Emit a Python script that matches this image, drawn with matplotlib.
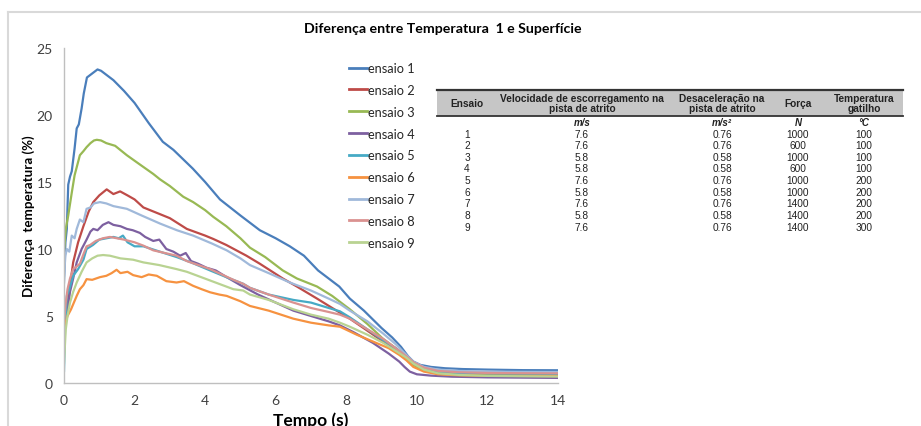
import matplotlib
matplotlib.use("Agg")
import matplotlib.pyplot as plt
from matplotlib.lines import Line2D
from matplotlib.patches import Rectangle

# ---------------- data ----------------
title = "Diferença entre Temperatura  1 e Superfície"
xlabel = "Tempo (s)"
ylabel = "Diferença  temperatura (%)"
series_names = ["ensaio 1", "ensaio 2", "ensaio 3", "ensaio 4", "ensaio 5",
                "ensaio 6", "ensaio 7", "ensaio 8", "ensaio 9"]
series_colors = ["#4A7EBB", "#BE4B48", "#98B954", "#7D60A0", "#46AAC5",
                 "#F69240", "#A0B9DA", "#DA9290", "#B9D392"]

t1 = [0, 0.04, 0.08, 0.12, 0.17, 0.22, 0.3, 0.36, 0.42, 0.5, 0.56, 0.65, 0.75, 0.85, 0.95, 1.05, 1.2,
      1.4, 1.7, 2.0, 2.4, 2.8, 3.1, 3.65, 4.0, 4.42, 5.0, 5.55, 6.0, 6.4, 6.8, 7.2, 7.8, 8.1, 8.5,
      9.0, 9.3, 9.55, 9.75, 9.9, 10.1, 10.4, 10.8, 11.3, 12.0, 13.0, 14.0]
v1 = [7.5, 10.5, 11.5, 14.8, 15.4, 15.8, 17.5, 19.0, 19.3, 20.5, 21.6, 22.8, 23.0, 23.2, 23.4, 23.3, 23.0,
      22.6, 21.8, 20.9, 19.4, 18.0, 17.4, 16.0, 15.0, 13.7, 12.5, 11.4, 10.8, 10.2, 9.5, 8.4, 7.2, 6.3, 5.4,
      4.1, 3.4, 2.7, 2.0, 1.6, 1.35, 1.2, 1.1, 1.04, 1.0, 0.96, 0.95]

t2 = [0, 0.05, 0.12, 0.26, 0.4, 0.55, 0.7, 0.83, 1.0, 1.21, 1.4, 1.59, 1.8, 2.0, 2.25, 2.72, 3.0, 3.48,
      4.0, 4.23, 4.6, 5.17, 5.55, 6.2, 6.6, 7.17, 7.6, 8.1, 8.6, 9.04, 9.4, 9.7, 9.9, 10.2, 10.6, 11.2,
      12, 13, 14]
v2 = [4.5, 5.2, 6.3, 9.0, 10.5, 11.7, 12.8, 13.5, 14.0, 14.45, 14.1, 14.3, 14.0, 13.7, 13.1, 12.6, 12.3, 11.5,
      11.0, 10.75, 10.3, 9.5, 8.9, 7.8, 7.2, 6.3, 5.6, 4.8, 3.9, 3.1, 2.5, 1.9, 1.4, 0.95, 0.75, 0.65,
      0.6, 0.57, 0.55]

t3 = [0, 0.05, 0.12, 0.22, 0.3, 0.45, 0.55, 0.64, 0.75, 0.85, 0.93, 1.05, 1.2, 1.45, 1.78, 2.1, 2.53,
      2.72, 3.0, 3.38, 3.66, 4.0, 4.23, 4.6, 5.0, 5.27, 5.7, 6.2, 6.6, 7.17, 7.6, 8.1, 8.6, 9.04, 9.4,
      9.7, 9.9, 10.2, 10.6, 11.2, 12, 13, 14]
v3 = [9.8, 11.5, 12.5, 14.2, 15.5, 17.0, 17.3, 17.6, 17.9, 18.1, 18.15, 18.1, 17.9, 17.7, 17.0, 16.4, 15.6,
      15.2, 14.7, 13.9, 13.5, 12.9, 12.4, 11.7, 10.8, 10.1, 9.4, 8.4, 7.8, 7.2, 6.5, 5.5, 4.4, 3.3, 2.6,
      1.9, 1.35, 0.95, 0.75, 0.67, 0.63, 0.61, 0.6]

t4 = [0.0, 0.08, 0.17, 0.26, 0.36, 0.5, 0.64, 0.75, 0.83, 0.95, 1.1, 1.26, 1.4, 1.6, 1.78, 1.95, 2.15,
      2.3, 2.53, 2.7, 2.9, 3.1, 3.29, 3.45, 3.6, 3.8, 4.04, 4.3, 4.61, 5.0, 5.5, 6.0, 6.5, 7.0, 7.5,
      7.82, 8.2, 8.75, 9.2, 9.5, 9.65, 9.8, 10.0, 10.4, 11.0, 12.0, 13.0, 14.0]
v4 = [4.5, 5.0, 6.8, 7.8, 9.0, 10.0, 10.7, 11.3, 11.5, 11.4, 11.8, 12.0, 11.8, 11.7, 11.5, 11.4, 11.2,
      10.9, 10.6, 10.7, 10.0, 9.8, 9.5, 9.7, 9.1, 8.9, 8.6, 8.4, 7.9, 7.3, 6.6, 6.0, 5.4, 5.0, 4.6,
      4.3, 3.8, 3.0, 2.2, 1.6, 1.2, 0.85, 0.65, 0.55, 0.47, 0.42, 0.4, 0.38]

t5 = [0, 0.03, 0.08, 0.15, 0.26, 0.4, 0.55, 0.64, 0.82, 1.0, 1.2, 1.4, 1.55, 1.67, 1.8, 2.0, 2.25, 2.6,
      3.19, 3.6, 4.14, 4.6, 5.08, 5.27, 5.8, 6.5, 7.0, 7.5, 7.82, 8.1, 8.6, 9.04, 9.4, 9.7, 9.9, 10.2,
      10.6, 11.2, 12, 13, 14]
v5 = [0.9, 4.0, 6.5, 7.0, 8.0, 8.5, 9.2, 10.0, 10.3, 10.7, 10.8, 10.9, 10.8, 11.0, 10.5, 10.2, 10.2, 9.9,
      9.4, 9.0, 8.4, 7.9, 7.4, 7.1, 6.6, 6.2, 6.0, 5.6, 5.35, 4.9, 4.0, 3.2, 2.6, 2.0, 1.5, 1.1,
      0.85, 0.75, 0.7, 0.69, 0.68]

t6 = [0, 0.05, 0.1, 0.2, 0.36, 0.45, 0.55, 0.64, 0.8, 1.02, 1.2, 1.35, 1.49, 1.6, 1.8, 1.96, 2.2, 2.4,
      2.63, 2.9, 3.19, 3.4, 3.66, 3.9, 4.14, 4.4, 4.61, 5.0, 5.27, 5.8, 6.5, 7.0, 7.5, 7.82, 8.3, 8.75,
      9.2, 9.5, 9.7, 9.9, 10.2, 10.6, 11.2, 12, 13, 14]
v6 = [3.7, 4.6, 5.0, 5.5, 6.5, 7.0, 7.3, 7.75, 7.7, 7.9, 8.0, 8.2, 8.45, 8.2, 8.3, 8.05, 7.9, 8.1,
      8.0, 7.6, 7.5, 7.6, 7.25, 7.0, 6.77, 6.6, 6.5, 6.1, 5.75, 5.4, 4.8, 4.5, 4.3, 4.2, 3.6, 3.1,
      2.6, 2.1, 1.7, 1.2, 0.85, 0.65, 0.57, 0.54, 0.53, 0.52]

t7 = [0, 0.04, 0.08, 0.15, 0.22, 0.3, 0.36, 0.45, 0.55, 0.64, 0.75, 0.85, 1.02, 1.2, 1.4, 1.78, 2.2,
      2.72, 3.2, 3.66, 4.2, 4.61, 5.0, 5.27, 5.8, 6.4, 7.0, 7.5, 7.82, 8.1, 8.6, 9.04, 9.4, 9.7, 9.9,
      10.2, 10.6, 11.2, 12, 13, 14]
v7 = [8.0, 9.5, 10.0, 9.8, 11.0, 10.8, 11.5, 12.2, 12.0, 13.0, 13.1, 13.4, 13.5, 13.4, 13.2, 13.0, 12.5,
      11.9, 11.4, 11.0, 10.4, 9.9, 9.3, 8.8, 8.2, 7.5, 6.9, 6.3, 5.9, 5.4, 4.6, 3.7, 2.9, 2.1, 1.6,
      1.2, 1.0, 0.9, 0.85, 0.83, 0.82]

t8 = [0, 0.05, 0.1, 0.17, 0.26, 0.36, 0.45, 0.55, 0.64, 0.74, 0.9, 1.1, 1.3, 1.5, 1.7, 2.0, 2.25, 2.53,
      3.19, 3.48, 4.14, 4.8, 5.08, 5.27, 5.8, 6.5, 7.0, 7.5, 7.82, 8.1, 8.6, 9.04, 9.4, 9.7, 9.9, 10.2,
      10.6, 11.2, 12, 13, 14]
v8 = [4.5, 6.0, 7.0, 7.8, 8.5, 8.7, 8.9, 9.6, 10.2, 10.3, 10.6, 10.8, 10.9, 10.8, 10.7, 10.5, 10.25, 9.9,
      9.5, 9.1, 8.5, 7.7, 7.4, 7.1, 6.6, 6.0, 5.6, 5.3, 5.1, 4.8, 4.0, 3.3, 2.6, 2.0, 1.55, 1.15,
      0.9, 0.8, 0.75, 0.73, 0.72]

t9 = [0, 0.05, 0.1, 0.17, 0.26, 0.36, 0.5, 0.64, 0.8, 0.95, 1.11, 1.3, 1.6, 1.96, 2.25, 2.7, 3.19, 3.48,
      4.14, 4.8, 5.08, 5.27, 5.8, 6.5, 7.0, 7.5, 7.82, 8.1, 8.6, 9.04, 9.4, 9.7, 9.9, 10.2, 10.6, 11.2,
      12, 13, 14]
v9 = [1.5, 4.0, 5.0, 6.0, 6.8, 7.5, 8.3, 9.0, 9.3, 9.5, 9.55, 9.5, 9.3, 9.2, 9.0, 8.8, 8.5, 8.3,
      7.65, 7.0, 6.9, 6.6, 6.2, 5.5, 5.1, 4.8, 4.5, 4.2, 3.6, 3.0, 2.4, 1.9, 1.45, 1.0, 0.72, 0.6,
      0.53, 0.5, 0.48]

series_t = [t1, t2, t3, t4, t5, t6, t7, t8, t9]
series_v = [v1, v2, v3, v4, v5, v6, v7, v8, v9]

x_ticks = [0, 2, 4, 6, 8, 10, 12, 14]
y_ticks = [0, 5, 10, 15, 20, 25]

# table data
table_header = ["Ensaio", "Velocidade de escorregamento na\npista de atrito",
                "Desaceleração na\npista de atrito", "Força", "Temperatura\ngatilho"]
table_units = ["", "m/s", "m/s²", "N", "°C"]
tab_ensaio = ["1", "2", "3", "4", "5", "6", "7", "8", "9"]
tab_velocidade = ["7.6", "7.6", "5.8", "5.8", "7.6", "5.8", "7.6", "5.8", "7.6"]
tab_desaceleracao = ["0.76", "0.76", "0.58", "0.58", "0.76", "0.58", "0.76", "0.58", "0.76"]
tab_forca = ["1000", "600", "1000", "600", "1000", "1000", "1400", "1400", "1400"]
tab_temperatura = ["100", "100", "100", "100", "200", "200", "200", "200", "300"]

# ---------------- figure ----------------
W, H = 921, 427
fig = plt.figure(figsize=(W / 100, H / 100), dpi=100)
fig.patch.set_facecolor("white")


def fx(px):
    return px / W


def fy(py):
    return 1 - py / H


FONT = ["Lato", "DejaVu Sans"]
TFONT = ["Liberation Sans", "DejaVu Sans"]

# outer chart-area border
fig.add_artist(Line2D([fx(8), fx(8)], [fy(13), fy(430)], color="#D9D9D9", lw=1.5))
fig.add_artist(Line2D([fx(8), fx(925)], [fy(13), fy(13)], color="#D9D9D9", lw=1.5))

ax = fig.add_axes([fx(64), fy(384), fx(558) - fx(64), fy(49) - fy(384)])
for t, v, c, n in zip(series_t, series_v, series_colors, series_names):
    ax.plot(t, v, color=c, lw=1.6, label=n, solid_joinstyle="round")

ax.set_xlim(0, 14)
ax.set_ylim(0, 25)
ax.set_xticks(x_ticks)
ax.set_yticks(y_ticks)
ax.tick_params(length=0, labelsize=10, labelcolor="#404040")
ax.tick_params(axis="y", pad=8)
ax.tick_params(axis="x", pad=8)
for lab in ax.get_xticklabels() + ax.get_yticklabels():
    lab.set_family(FONT)
for s in ["top", "right"]:
    ax.spines[s].set_visible(False)
for s in ["left", "bottom"]:
    ax.spines[s].set_color("#BFBFBF")
    ax.spines[s].set_linewidth(1.0)

ax.set_xlabel(xlabel, fontsize=12.5, fontweight="bold", family=FONT)
ax.set_ylabel(ylabel, fontsize=9.6, fontweight="bold", family=FONT)
ax.xaxis.set_label_coords(0.5, (384 - 412) / 335)
ax.yaxis.set_label_coords((35 - 64) / 494, 0.5)

fig.text(fx(443), fy(29), title, ha="center", va="center", fontsize=10.2,
         fontweight="bold", family=FONT, color="black")

leg = fig.legend(loc="upper left", bbox_to_anchor=(fx(349), fy(63)), frameon=False,
                 borderpad=0, borderaxespad=0, handlelength=1.4, handletextpad=0.1,
                 labelspacing=0.77, prop={"family": FONT, "size": 9.2})
for txt in leg.get_texts():
    txt.set_color("#262626")
for h in leg.get_lines():
    h.set_linewidth(2.0)

# ---------------- table ----------------
fig.add_artist(Rectangle((fx(437), fy(117)), fx(903) - fx(437), fy(91) - fy(117),
                         facecolor="#C6C6C6", edgecolor="none"))
fig.add_artist(Line2D([fx(437), fx(903)], [fy(91), fy(91)], color="#333333", lw=1.6))
fig.add_artist(Line2D([fx(437), fx(903)], [fy(117), fy(117)], color="#333333", lw=1.3))

col_x = [467, 582, 722, 798, 864]
for cx, h in zip(col_x, table_header):
    fig.text(fx(cx), fy(104.5), h, ha="center", va="center", fontsize=7.3, fontweight="bold",
             family=TFONT, color="#222222", linespacing=1.0)
for cx, u in zip(col_x, table_units):
    if u:
        fig.text(fx(cx), fy(123.5), u, ha="center", va="center", fontsize=7, fontweight="bold",
                 style="italic", family=TFONT, color="#222222")
row_y0, row_dy = 134.5, 11.65
columns = [tab_ensaio, tab_velocidade, tab_desaceleracao, tab_forca, tab_temperatura]
for i in range(len(tab_ensaio)):
    for cx, col in zip(col_x, columns):
        fig.text(fx(cx), fy(row_y0 + i * row_dy), col[i], ha="center", va="center",
                 fontsize=7.3, family=TFONT, color="#222222")

fig.savefig("out.png", dpi=100, facecolor="white")
